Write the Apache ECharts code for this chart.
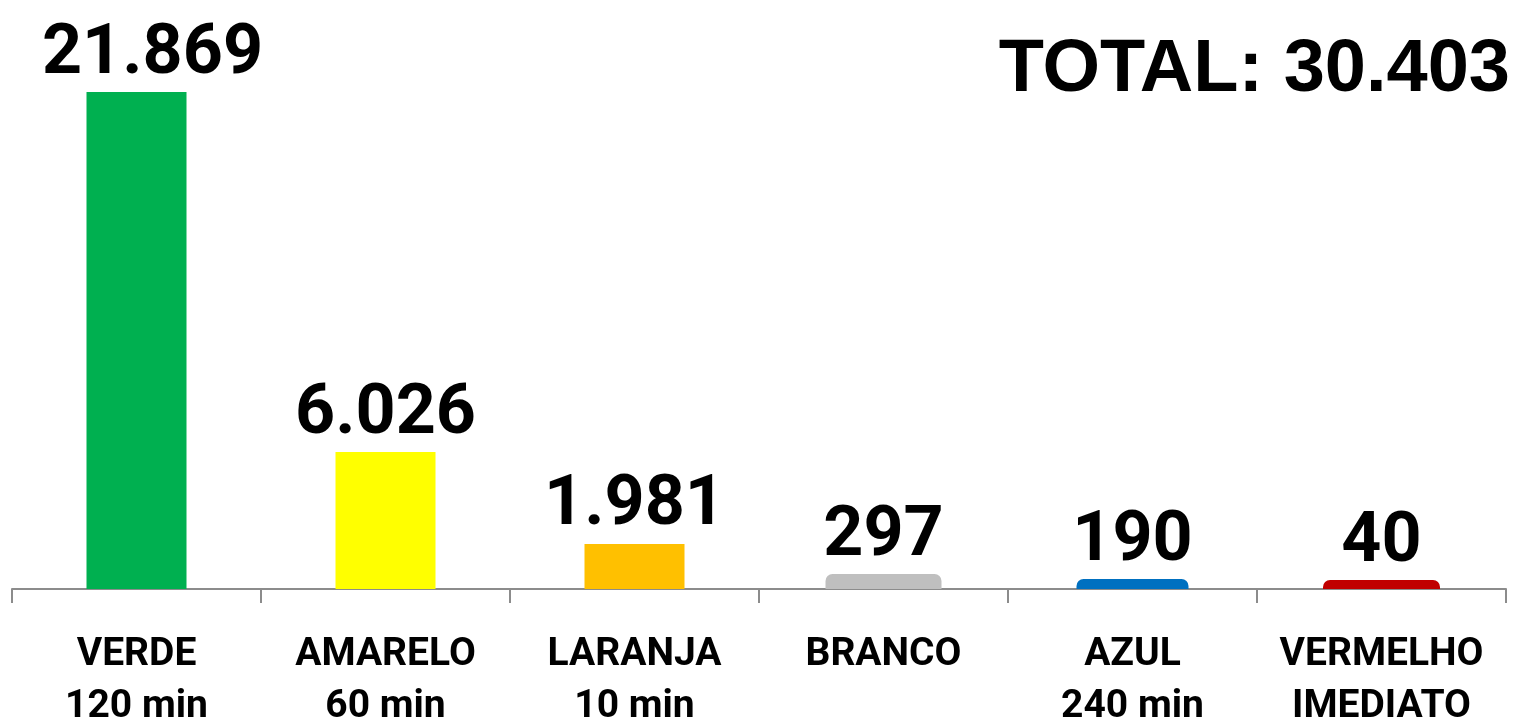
<!DOCTYPE html>
<html><head><meta charset="utf-8">
<script src="https://cdn.jsdelivr.net/npm/echarts@6/dist/echarts.min.js"></script>
<style>html,body{margin:0;padding:0;background:#fff}#c{width:1516px;height:725px}</style>
</head><body><div id="c"></div>
<script>
const categories = ['VERDE\n120 min','AMARELO\n60 min','LARANJA\n10 min','BRANCO','AZUL\n240 min','VERMELHO\nIMEDIATO'];
const values = [21869, 6026, 1981, 297, 190, 40];
const totalLabel = 'TOTAL: 30.403';

const colors = ['#00B050','#FFFF00','#FFC000','#BFBFBF','#0070C0','#C00000'];
const widths = [100,100,100,116,112,117];
const minHeights = [0,0,0,15,10,9];
const radii = [0,0,0,7,7,7];
const labelShift = [16,0,0,0,0,0];

const fmt = v => v.toLocaleString('de-DE');

const chart = echarts.init(document.getElementById('c'));
chart.setOption({
  animation:false,
  title:{text:totalLabel, right:1, top:29, textStyle:{fontFamily:'Liberation Sans', fontWeight:'bold', fontSize:74, color:'#000'}},
  grid:{left:12, right:10, top:92, bottom:136, outerBoundsMode:'none', containLabel:false},
  xAxis:{type:'category', data:categories,
    axisLine:{lineStyle:{color:'#8c8c8c', width:2}},
    axisTick:{show:true, length:14, lineStyle:{color:'#8c8c8c', width:2}},
    axisLabel:{color:'#000', fontFamily:'Roboto', fontWeight:'bold', fontSize:39, lineHeight:52, margin:40, interval:0}
  },
  yAxis:{type:'value', min:0, max:'dataMax', show:false, splitLine:{show:false}},
  series:[{
    type:'custom',
    silent:true,
    encode:{x:0, y:1},
    data: values.map((v,i)=>[i,v]),
    renderItem:(params, api)=>{
      const i = api.value(0), v = api.value(1);
      const top = api.coord([i, v]);
      const base = api.coord([i, 0]);
      const h = Math.max(base[1]-top[1], minHeights[i]);
      const w = widths[i];
      return {
        type:'rect',
        shape:{x:base[0]-w/2, y:base[1]-h, width:w, height:h, r:[radii[i],radii[i],0,0]},
        style:{fill:colors[i]},
        textContent:{style:{text:fmt(v), fontFamily:'Roboto', fontWeight:'bold', fontSize:70, fill:'#000'}},
        textConfig:{position:'top', distance:2, offset:[labelShift[i],0]}
      };
    }
  }]
});
</script></body></html>
